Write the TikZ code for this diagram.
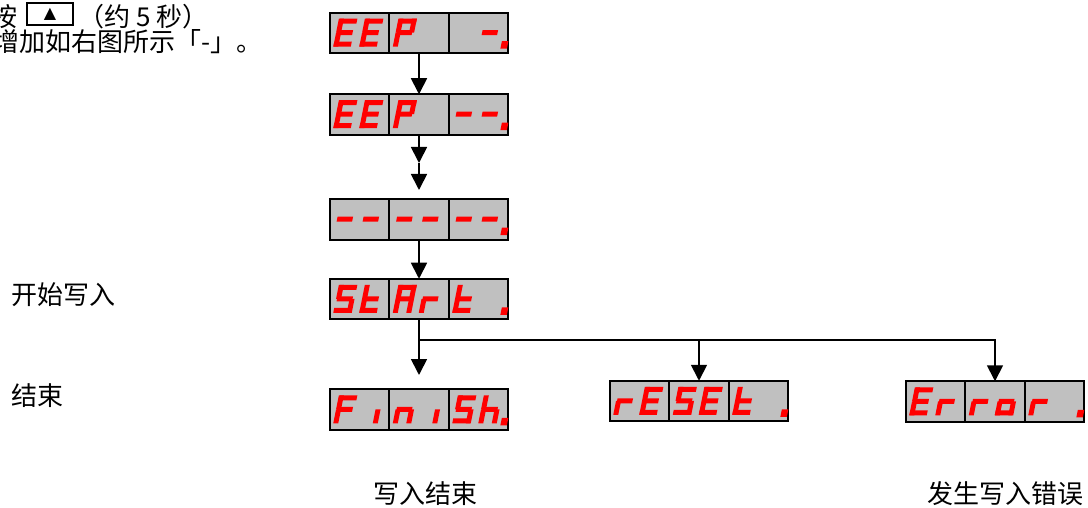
\documentclass[tikz,border=0pt]{standalone}
\usepackage{fontspec}
\setmainfont{Noto Sans CJK SC}
\newfontfamily\trifont{DejaVu Sans}
\usepackage{tikz}
\usetikzlibrary{arrows.meta}

\definecolor{panelgray}{RGB}{192,192,192}
\definecolor{ledred}{RGB}{255,0,0}

\tikzset{
  panel/.style={draw, line width=1.6pt, fill=panelgray, minimum width=178.5pt, minimum height=40.5pt, inner sep=0pt, outer sep=0pt},
  arr/.style={line width=1.8pt, -{Triangle[width=16pt,length=16pt]}},
  seg/.style={fill=ledred},
  lbl/.style={font=\fontsize{26}{30}\selectfont, inner sep=0pt},
  keybox/.style={draw, line width=1.2pt, minimum width=46pt, minimum height=22pt, inner sep=0pt},
}

% segments of one led digit (a top, b c right, d bottom, e f left, g middle, p dot)
\newcommand{\ledsega}{\fill[seg] (1,23) rectangle (18.5,28);}
\newcommand{\ledsegb}{\fill[seg] (13.5,14) rectangle (18.5,28);}
\newcommand{\ledsegc}{\fill[seg] (13.5,0) rectangle (18.5,14);}
\newcommand{\ledsegd}{\fill[seg] (0,0) rectangle (17.5,5);}
\newcommand{\ledsege}{\fill[seg] (0,0) rectangle (5,14);}
\newcommand{\ledsegf}{\fill[seg] (0,14) rectangle (5,28);}
\newcommand{\ledsegg}{\fill[seg] (1,11.5) rectangle (16.5,16.5);}
\newcommand{\ledsegp}{\fill[seg] (22.5,-2) rectangle (29,5.5);}
\newcommand{\ledsegx}{}

% panel of three cells, six digits
\newcommand{\ledpanel}[3]{%
  \node[panel] (#1) at #2 {};
  \draw[line width=1.6pt] ([xshift=59.5pt]#1.south west) -- ([xshift=59.5pt]#1.north west);
  \draw[line width=1.6pt] ([xshift=119pt]#1.south west) -- ([xshift=119pt]#1.north west);
  \begin{scope}[shift={(#1.south west)}]
    \foreach \dg [count=\k from 0] in {#3} {
      \pgfmathsetmacro\dx{floor(\k/2)*59.5+3.5+mod(\k,2)*26}
      \begin{scope}[shift={(\dx,6.5)},xslant=0.2]
        \foreach \sg in \dg {\csname ledseg\sg\endcsname}
      \end{scope}
    }
  \end{scope}
}

\begin{document}
\begin{tikzpicture}[x=1pt,y=1pt]
\useasboundingbox (0,0) rectangle (1088,507);
\clip (0,0) rectangle (1088,507);

% text at the top left
\node[lbl, anchor=east] (press) at (18,490) {按};
\node[keybox] (upkey) at (50,493) {\fontsize{16}{16}\selectfont\trifont ▲};
\node[lbl, anchor=west] (wait) at (78,490) {（约 5 秒）};
\node[lbl, anchor=west] (hint) at (-7,465.5) {增加如右图所示「-」。};

% displays
\ledpanel{eepa}{(419,474)}{{a,d,e,f,g},{a,d,e,f,g},{a,b,e,f,g},{x},{x},{g,p}}
\ledpanel{eepb}{(419,392.5)}{{a,d,e,f,g},{a,d,e,f,g},{a,b,e,f,g},{x},{g},{g,p}}
\ledpanel{dash}{(419,287.5)}{{g},{g},{g},{g},{g},{g,p}}
\ledpanel{start}{(419,208)}{{a,c,d,f,g},{d,e,f,g},{a,b,c,e,f,g},{e,g},{d,e,f,g},{p}}
\ledpanel{finish}{(419,97.5)}{{a,e,f,g},{c},{c,e,g},{c},{a,c,d,f,g},{c,e,f,g,p}}
\ledpanel{reset}{(699,106)}{{e,g},{a,d,e,f,g},{a,c,d,f,g},{a,d,e,f,g},{d,e,f,g},{p}}
\ledpanel{error}{(995,105.5)}{{a,d,e,f,g},{e,g},{e,g},{c,d,e,g},{e,g},{p}}

% connectors
\coordinate (twin) at (419,344);
\coordinate (twinend) at (419,317);
\coordinate (fork) at (419,167);
\coordinate (finend) at (419,132);
\draw[arr] (eepa) -- (eepb);
\draw[arr] (eepb) -- (twin);
\draw[arr] (twin) -- (twinend);
\draw[arr] (dash) -- (start);
\draw[arr] (start) -- (finend);
\draw[arr] (fork) -| (reset.north);
\draw[arr] (fork) -| (error.north);

% labels
\node[lbl, anchor=west] (begin) at (11,212.5) {开始写入};
\node[lbl, anchor=west] (over) at (11,111) {结束};
\node[lbl] (donetext) at (425,13) {写入结束};
\node[lbl] (errtext) at (1005,13) {发生写入错误};
\end{tikzpicture}
\end{document}
